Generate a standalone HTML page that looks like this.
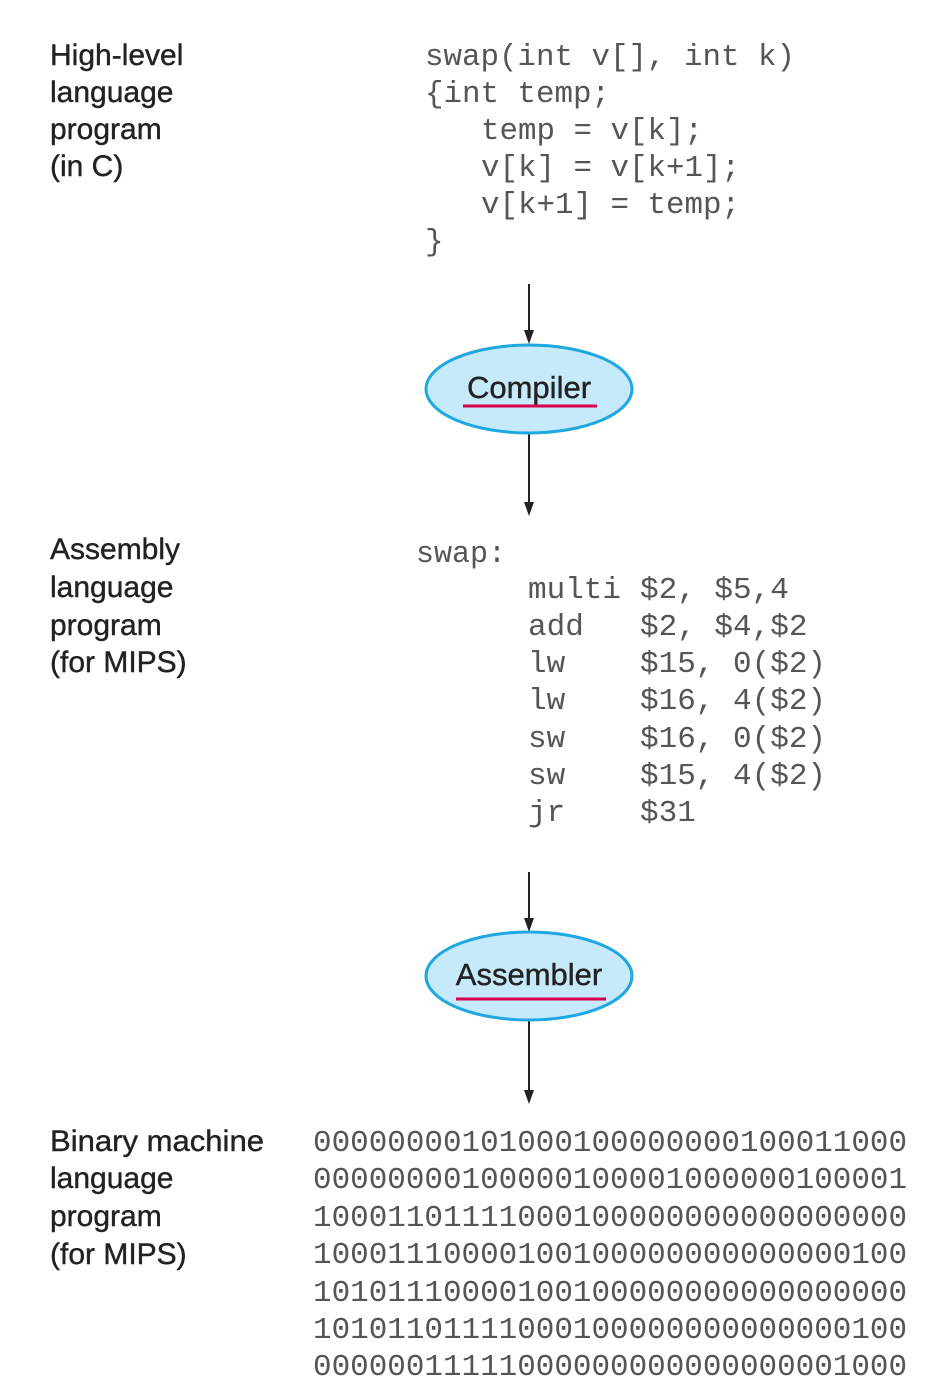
<!DOCTYPE html>
<html><head><meta charset="utf-8"><style>html,body{margin:0;padding:0;background:#fff}svg{display:block}</style></head>
<body>
<svg width="946" height="1400" viewBox="0 0 946 1400" xmlns="http://www.w3.org/2000/svg">
<g font-family="Liberation Sans, sans-serif" font-size="30" fill="#222" stroke="#222" stroke-width="0.4">
<text x="50" y="65">High-level</text><text x="50" y="102">language</text><text x="50" y="139">program</text><text x="50" y="176">(in C)</text>
<text x="50" y="559">Assembly</text><text x="50" y="597">language</text><text x="50" y="635">program</text><text x="50" y="672">(for MIPS)</text>
<text x="50" y="1151" textLength="214" lengthAdjust="spacingAndGlyphs">Binary machine</text><text x="50" y="1188">language</text><text x="50" y="1226">program</text><text x="50" y="1264">(for MIPS)</text>
</g>
<g font-family="Liberation Mono, monospace" font-size="31" fill="#555" xml:space="preserve">
<text x="425" y="65" textLength="370" lengthAdjust="spacingAndGlyphs">swap(int v[], int k)</text>
<text x="425" y="102" textLength="185" lengthAdjust="spacingAndGlyphs">{int temp;</text>
<text x="481" y="139" textLength="222" lengthAdjust="spacingAndGlyphs">temp = v[k];</text>
<text x="481" y="176" textLength="259" lengthAdjust="spacingAndGlyphs">v[k] = v[k+1];</text>
<text x="481" y="213" textLength="259" lengthAdjust="spacingAndGlyphs">v[k+1] = temp;</text>
<text x="425" y="250">}</text>
<text x="416" y="562" textLength="90" lengthAdjust="spacingAndGlyphs">swap:</text>
<text x="528" y="598">multi</text><text x="640" y="598">$2, $5,4</text>
<text x="528" y="635">add</text><text x="640" y="635">$2, $4,$2</text>
<text x="528" y="672">lw</text><text x="640" y="672">$15, 0($2)</text>
<text x="528" y="709">lw</text><text x="640" y="709">$16, 4($2)</text>
<text x="528" y="747">sw</text><text x="640" y="747">$16, 0($2)</text>
<text x="528" y="784">sw</text><text x="640" y="784">$15, 4($2)</text>
<text x="528" y="821">jr</text><text x="640" y="821">$31</text>
</g>
<g font-family="Liberation Mono, monospace" font-size="31" fill="#555">
<text x="313" y="1151" textLength="594" lengthAdjust="spacingAndGlyphs">00000000101000100000000100011000</text>
<text x="313" y="1188" textLength="594" lengthAdjust="spacingAndGlyphs">00000000100000100001000000100001</text>
<text x="313" y="1226" textLength="594" lengthAdjust="spacingAndGlyphs">10001101111000100000000000000000</text>
<text x="313" y="1263" textLength="594" lengthAdjust="spacingAndGlyphs">10001110000100100000000000000100</text>
<text x="313" y="1301" textLength="594" lengthAdjust="spacingAndGlyphs">10101110000100100000000000000000</text>
<text x="313" y="1338" textLength="594" lengthAdjust="spacingAndGlyphs">10101101111000100000000000000100</text>
<text x="313" y="1375" textLength="594" lengthAdjust="spacingAndGlyphs">00000011111000000000000000001000</text>
</g>
<g stroke="#222" stroke-width="2">
<line x1="529" y1="284" x2="529" y2="332"/>
<line x1="529" y1="434" x2="529" y2="504"/>
<line x1="529" y1="872" x2="529" y2="920"/>
<line x1="529" y1="1021" x2="529" y2="1092"/>
</g>
<g fill="#222">
<polygon points="524,330 534,330 529,344"/>
<polygon points="524,502 534,502 529,516"/>
<polygon points="524,918 534,918 529,932"/>
<polygon points="524,1090 534,1090 529,1104"/>
</g>
<ellipse cx="529" cy="389" rx="103" ry="44" fill="#c6e9fb" stroke="#1ea7e1" stroke-width="3"/>
<ellipse cx="529" cy="976" rx="103" ry="44" fill="#c6e9fb" stroke="#1ea7e1" stroke-width="3"/>
<g font-family="Liberation Sans, sans-serif" font-size="31" fill="#222" stroke="#222" stroke-width="0.4" text-anchor="middle">
<text x="529" y="398">Compiler</text>
<text x="529" y="985">Assembler</text>
</g>
<line x1="463" y1="406" x2="597" y2="406" stroke="#d6004f" stroke-width="3"/>
<line x1="456" y1="999" x2="606" y2="999" stroke="#d6004f" stroke-width="3"/>
</svg>
</body></html>
